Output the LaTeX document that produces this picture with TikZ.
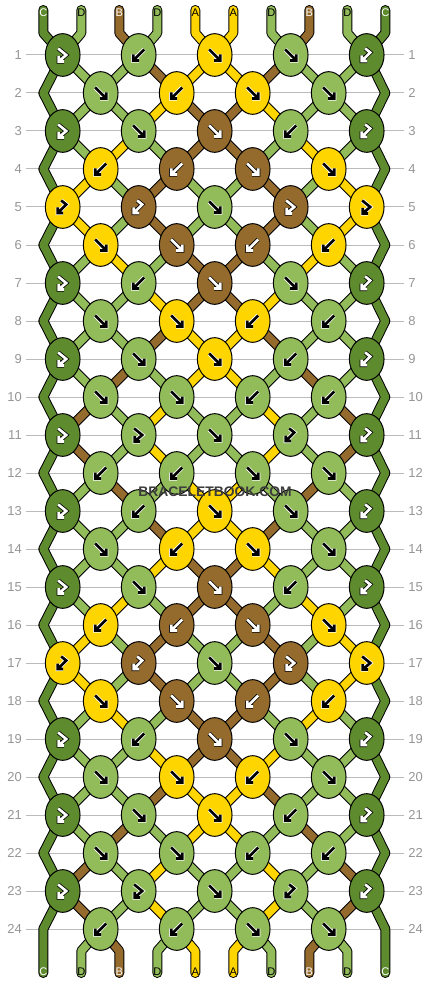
\documentclass[tikz,border=0pt]{standalone}
\usepackage{fontspec}
\setmainfont{Liberation Sans}
\usetikzlibrary{shapes.geometric,backgrounds}
\definecolor{colA}{HTML}{FFD500}
\definecolor{colB}{HTML}{946B2D}
\definecolor{colC}{HTML}{5F8B2F}
\definecolor{colD}{HTML}{92BC5A}
\definecolor{rulegray}{HTML}{BBBBBB}
\definecolor{numgray}{HTML}{959595}
\definecolor{markgray}{HTML}{3C3C3C}
\tikzset{
  knot/.style={ellipse, draw=black, line width=0.75pt, minimum width=26pt,
    minimum height=32pt, inner sep=0pt},
  strand/.style={draw=black, double=#1, line width=0.75pt, double distance=6pt,
    line join=round},
  rowline/.style={draw=rulegray, line width=0.75pt},
  rownum/.style={text=numgray, inner sep=0pt, font=\fontsize{9.75pt}{11pt}\selectfont},
  tag/.style={inner sep=0pt, font=\fontsize{8.3pt}{9pt}\selectfont, tag#1},
  tagA/.style={text=black}, tagB/.style={text=white},
  tagC/.style={text=white}, tagD/.style={text=black},
  brandtext/.style={text=markgray, inner sep=0pt,
    font=\fontsize{10.4pt}{12pt}\selectfont\bfseries},
  icon/.style={line width=0.6pt, double distance=2pt, ink#1},
  inkA/.style={draw=white, double=black}, inkB/.style={draw=black, double=white},
  inkC/.style={draw=black, double=white}, inkD/.style={draw=white, double=black},
  pics/fw/.style={code={\draw[icon=#1] (-5.5,-5.5) -- (5.5,5.5)
    (5.5,-0.5) -- (5.5,5.5) -- (-0.5,5.5);}},
  pics/bw/.style={code={\draw[icon=#1] (5.5,-5.5) -- (-5.5,5.5)
    (-5.5,-0.5) -- (-5.5,5.5) -- (0.5,5.5);}},
  pics/fb/.style={code={\draw[icon=#1] (-4.5,-6.5) -- (3.5,0) -- (-4,6.5)
    (-4,1) -- (-4,6.5) -- (1.5,6.5);}},
  pics/bf/.style={code={\draw[icon=#1] (-1.5,-6.5) -- (3.5,-2.5) -- (-5,6)
    (-5,0.5) -- (-5,6) -- (0.5,6);}},
}
\begin{document}
\begin{tikzpicture}[x=0.75pt, y=-0.75pt]
  \useasboundingbox (0,0) rectangle (430,984);
  \foreach \r/\spec in {
    1/{C/fb,D/bw,A/fw,D/fw,C/bf}, 2/{D/fw,A/bw,A/fw,D/fw},
    3/{C/fb,D/fw,B/fw,D/bw,C/bf}, 4/{A/bw,B/bw,B/fw,A/fw},
    5/{A/bf,B/bf,D/fw,B/fb,A/fb}, 6/{A/fw,B/fw,B/bw,A/bw},
    7/{C/fb,D/bw,B/fw,D/fw,C/bf}, 8/{D/fw,A/fw,A/bw,D/bw},
    9/{C/fb,D/fw,A/fw,D/bw,C/bf}, 10/{D/fw,D/fw,D/bw,D/bw},
    11/{C/fb,D/fb,D/fw,D/bf,C/bf}, 12/{D/bw,D/bw,D/fw,D/fw},
    13/{C/fb,D/bw,A/fw,D/fw,C/bf}, 14/{D/fw,A/bw,A/fw,D/fw},
    15/{C/fb,D/fw,B/fw,D/bw,C/bf}, 16/{A/bw,B/bw,B/fw,A/fw},
    17/{A/bf,B/bf,D/fw,B/fb,A/fb}, 18/{A/fw,B/fw,B/bw,A/bw},
    19/{C/fb,D/bw,B/fw,D/fw,C/bf}, 20/{D/fw,A/fw,A/bw,D/fw},
    21/{C/fb,D/fw,A/fw,D/bw,C/bf}, 22/{D/fw,D/fw,D/bw,D/bw},
    23/{C/fb,D/fb,D/fw,D/bf,C/bf}, 24/{D/bw,D/bw,D/fw,D/fw}}{
    \foreach \c/\t [count=\j] in \spec {
      \pgfmathsetmacro\kx{62.7+38*(2*\j-1-mod(\r,2))}
      \pgfmathsetmacro\ky{55+38*(\r-1)}
      \node[knot, fill=col\c] (k\r-\j) at (\kx,\ky) {};
      \edef\doicon{\noexpand\pic at (k\r-\j) {\t=\c};}\doicon
    }
  }
  \begin{pgfonlayer}{background}
    \foreach \r in {1,...,24}{
      \pgfmathsetmacro\ky{55+38*(\r-1)}
      \draw[rowline] (26,\ky) -- (404,\ky);
    }
    \foreach \r/\cols in {
      1/{C,D,D,B,A,A,B,D,D,C}, 2/{C,D,D,A,B,B,A,D,D,C}, 3/{C,D,A,D,B,B,D,A,D,C},
      4/{C,A,D,B,D,D,B,D,A,C}, 5/{C,A,D,B,D,D,B,D,A,C}, 6/{C,D,A,D,B,B,D,A,D,C},
      7/{C,D,D,A,B,B,A,D,D,C}, 8/{C,D,D,B,A,A,B,D,D,C}, 9/{C,D,B,D,A,A,D,B,D,C},
      10/{C,B,D,A,D,D,A,D,B,C}, 11/{C,B,D,A,D,D,A,D,B,C}, 12/{C,D,B,D,A,A,D,B,D,C},
      13/{C,D,D,B,A,A,B,D,D,C}, 14/{C,D,D,A,B,B,A,D,D,C}, 15/{C,D,A,D,B,B,D,A,D,C},
      16/{C,A,D,B,D,D,B,D,A,C}, 17/{C,A,D,B,D,D,B,D,A,C}, 18/{C,D,A,D,B,B,D,A,D,C},
      19/{C,D,D,A,B,B,A,D,D,C}, 20/{C,D,D,B,A,A,B,D,D,C}, 21/{C,D,B,D,A,A,D,B,D,C},
      22/{C,B,D,A,D,D,A,D,B,C}, 23/{C,B,D,A,D,D,A,D,B,C}}{
      \pgfmathtruncatemacro\rn{\r+1}
      \foreach \c [count=\s from 0] in \cols {
        \ifnum\s>0 \ifnum\s<9\relax
          \pgfmathtruncatemacro\jo{floor(\s/2)+1}
          \pgfmathtruncatemacro\je{floor((\s+1)/2)}
          \ifodd\r\relax
            \draw[strand=col\c] (k\r-\jo.center) -- (k\rn-\je.center);
          \else
            \draw[strand=col\c] (k\r-\je.center) -- (k\rn-\jo.center);
          \fi
        \fi\fi
      }
    }
    \foreach \r in {1,3,...,21}{
      \pgfmathtruncatemacro\rn{\r+2}
      \pgfmathsetmacro\ey{55+38*\r}
      \draw[strand=colC] (k\r-1.center) -- (43.3,\ey) -- (k\rn-1.center);
      \draw[strand=colC] (k\r-5.center) -- (385.3,\ey) -- (k\rn-5.center);
    }
    \foreach \c [count=\s from 0] in {C,D,B,D,A,A,D,B,D,C}{
      \pgfmathsetmacro\sx{43.3+38*\s}
      \pgfmathtruncatemacro\jo{floor(\s/2)+1}
      \pgfmathtruncatemacro\je{floor((\s+1)/2)}
      \coordinate (top\s) at (\sx,10);
      \coordinate (bot\s) at (\sx,973);
      \draw[strand=col\c, line cap=round] (top\s) -- (\sx,33) -- (k1-\jo.center);
      \ifnum\s=0
        \draw[strand=col\c, line cap=round] (k23-1.center) -- (\sx,929) -- (bot\s);
      \else\ifnum\s=9
        \draw[strand=col\c, line cap=round] (k23-5.center) -- (\sx,929) -- (bot\s);
      \else
        \draw[strand=col\c, line cap=round] (k24-\je.center) -- (\sx,951) -- (bot\s);
      \fi\fi
    }
  \end{pgfonlayer}
  \foreach \r in {1,...,24}{
    \pgfmathsetmacro\ky{55+38*(\r-1)}
    \node[rownum, anchor=east] (left\r) at (22,\ky) {\r};
    \node[rownum, anchor=west] (right\r) at (408,\ky) {\r};
  }
  \foreach \c [count=\s from 0] in {C,D,B,D,A,A,D,B,D,C}{
    \node[tag=\c] (in\s) at (top\s |- 0,12.7) {\c};
    \node[tag=\c] (out\s) at (bot\s |- 0,971.7) {\c};
  }
  \node[brandtext] (brand) at (215,491.7) {BRACELETBOOK.COM};
\end{tikzpicture}
\end{document}
